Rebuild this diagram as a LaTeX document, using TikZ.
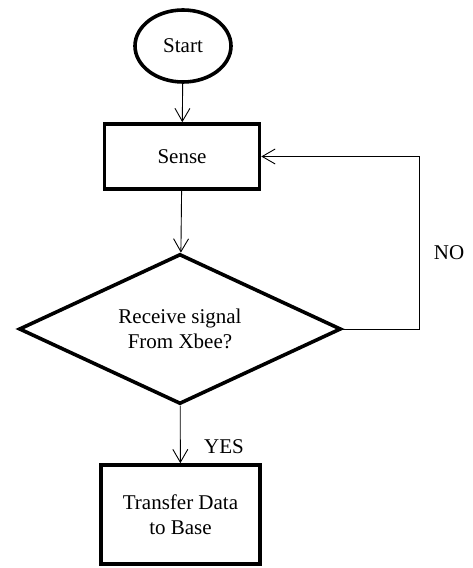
\documentclass[tikz,border=0pt]{standalone}
\usepackage{fontspec}
\setmainfont{Liberation Serif}
\usetikzlibrary{shapes.geometric,arrows.meta}

\begin{document}
\begin{tikzpicture}[x=1pt, y=1pt,
    font=\fontsize{21}{25.5}\selectfont,
    block/.style={draw, line width=3.6pt, inner sep=0pt, align=center},
    flow/.style={line width=0.9pt, -{Straight Barb[length=13pt, width=15pt, line width=0.9pt]}}]
    \useasboundingbox (0,0) rectangle (472,568);

    \node[block, ellipse, minimum width=96pt, minimum height=72pt] (start) at (183,522) {Start};
    \node[block, minimum width=155pt, minimum height=65pt] (sense) at (182,411.5) {Sense};
    \node[block, diamond, aspect=2.1, minimum width=322pt, minimum height=150pt] (xbee) at (180,239) {Receive signal\\From Xbee?};
    \node[block, minimum width=159pt, minimum height=99pt] (transfer) at (180.5,53.5) {Transfer Data\\to Base};

    \node (no) at (449,315) {NO};
    \node (yes) at (224,121) {YES};

    \draw[flow] (start) -- (sense);
    \draw[flow] (sense) -- (xbee);
    \draw[flow] (xbee) -- (transfer);
    \draw[flow] (xbee.east) -- ++(77,0) |- (sense.east);

    % \draw (no) -- (yes);
\end{tikzpicture}
\end{document}
